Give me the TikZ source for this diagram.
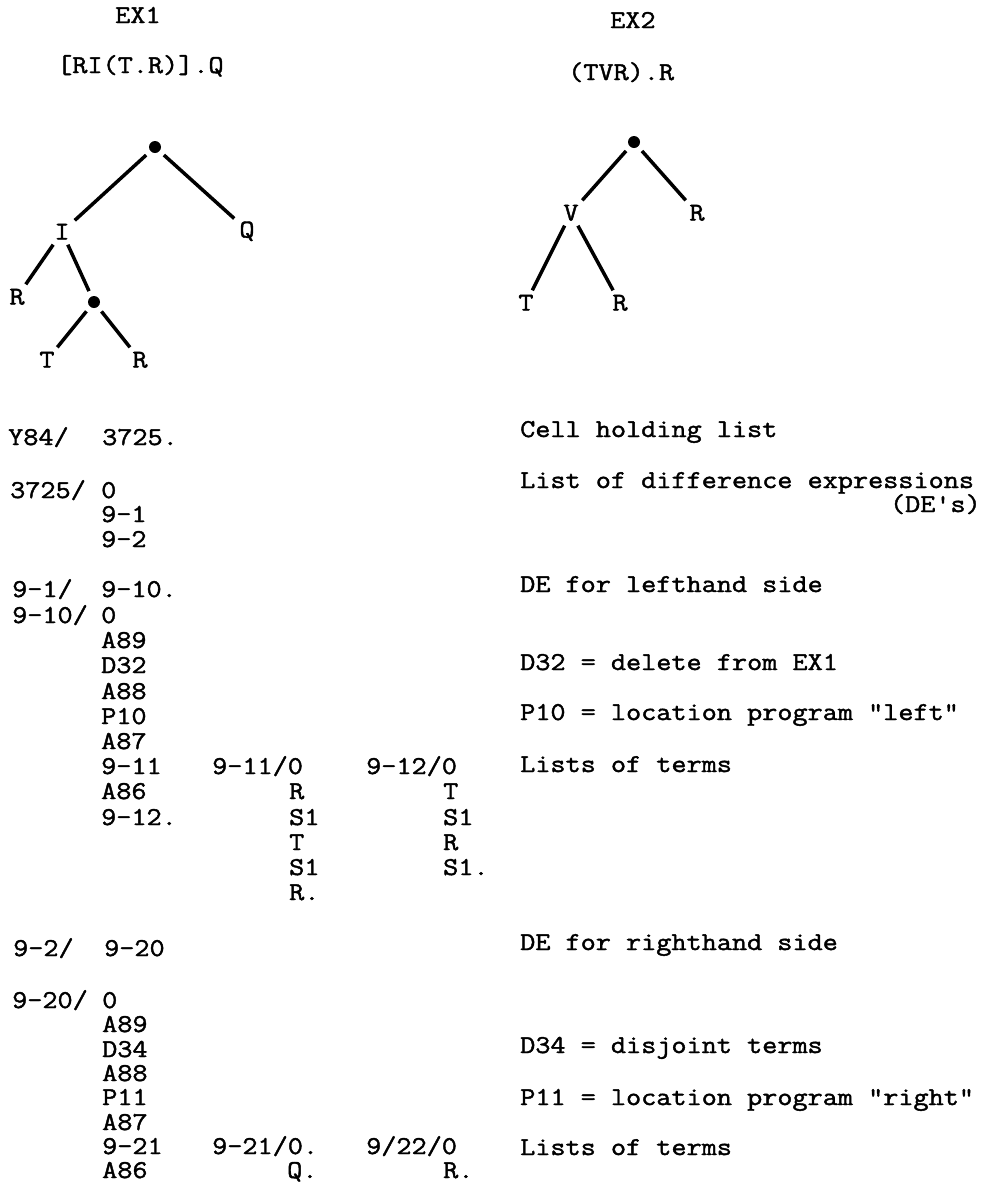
\documentclass[tikz,border=0pt]{standalone}
\usepackage{fontspec}
\setmonofont{Latin Modern Mono}[FakeStretch=1.143, FakeBold=1.6]
\newcommand\tw{\ttfamily\fontsize{25.7}{25}\selectfont}
\begin{document}
\begin{tikzpicture}[x=1pt,y=-1pt,
  txt/.style={anchor=base west, inner sep=0pt, font=\tw},
  txr/.style={anchor=base east, inner sep=0pt, font=\tw},
  leaf/.style={font=\tw, inner sep=5pt, text height=15pt, text depth=0pt},
  dotn/.style={circle, fill=black, inner sep=0pt, minimum size=12pt, outer sep=6pt},
  branch/.style={line width=3.5pt}]
\useasboundingbox[fill=white] (0,0) rectangle (988,1192);

% ---------- headings ----------
\node[txt] (ex1) at (115,23) {EX1};
\node[txt] (f1) at (57,73) {[RI(T.R)].Q};
\node[txt] (ex2) at (610,28) {EX2};
\node[txt] (f2) at (568,80) {(TVR).R};

% ---------- tree EX1 ----------
\node[dotn] (r1) at (155,147) {};
\node[leaf] (i1) at (62,232) {I};
\node[leaf] (q1) at (247,230) {Q};
\node[leaf] (ra) at (17,297) {R};
\node[dotn] (d2) at (94,302) {};
\node[leaf] (t1) at (47,360) {T};
\node[leaf] (rb) at (140,360) {R};
\draw[branch] (r1) -- (i1);
\draw[branch] (r1) -- (q1);
\draw[branch] (i1) -- (ra);
\draw[branch] (i1) -- (d2);
\draw[branch] (d2) -- (t1);
\draw[branch] (d2) -- (rb);

% ---------- tree EX2 ----------
\node[dotn] (r2) at (634,142) {};
\node[leaf] (v2) at (571,213) {V};
\node[leaf] (rc) at (697,213) {R};
\node[leaf] (t2) at (526,303) {T};
\node[leaf] (rd) at (620,303) {R};
\draw[branch] (r2) -- (v2);
\draw[branch] (r2) -- (rc);
\draw[branch] (v2) -- (t2);
\draw[branch] (v2) -- (rd);

% ---------- listing, first block ----------
\node[txt] (a1) at (8,445) {Y84/};
\node[txt] (a2) at (102,445) {3725.};
\node[txt] (b1) at (10,498) {3725/};
\node[txt] (b2) at (101,498) {0};
\node[txt] (b3) at (101,522) {9-1};
\node[txt] (b4) at (101,547) {9-2};

\node[txt] (c1) at (12,597) {9-1/};
\node[txt] (c2) at (101,597) {9-10.};
\node[txt] (c3) at (12,623) {9-10/};
\node[txt] (c4) at (101,623) {0};
\node[txt] (c5) at (101,648) {A89};
\node[txt] (c6) at (101,673) {D32};
\node[txt] (c7) at (101,699) {A88};
\node[txt] (c8) at (101,724) {P10};
\node[txt] (c9) at (101,749) {A87};
\node[txt] (c10) at (101,774) {9-11};
\node[txt] (c11) at (101,799) {A86};
\node[txt] (c12) at (101,825) {9-12.};

\node[txt] (e1) at (212,774) {9-11/0};
\node[txt] (e2) at (289,799) {R};
\node[txt] (e3) at (289,825) {S1};
\node[txt] (e4) at (289,850) {T};
\node[txt] (e5) at (289,875) {S1};
\node[txt] (e6) at (289,900) {R.};

\node[txt] (g1) at (366,774) {9-12/0};
\node[txt] (g2) at (443,799) {T};
\node[txt] (g3) at (443,825) {S1};
\node[txt] (g4) at (443,850) {R};
\node[txt] (g5) at (443,875) {S1.};

% ---------- listing, second block ----------
\node[txt] (h1) at (13,956) {9-2/};
\node[txt] (h2) at (104,956) {9-20};
\node[txt] (k1) at (12,1008) {9-20/};
\node[txt] (k2) at (102,1008) {0};
\node[txt] (k3) at (102,1032) {A89};
\node[txt] (k4) at (102,1057) {D34};
\node[txt] (k5) at (102,1081) {A88};
\node[txt] (k6) at (102,1105) {P11};
\node[txt] (k7) at (102,1130) {A87};
\node[txt] (k8) at (102,1154) {9-21};
\node[txt] (k9) at (102,1178) {A86};
\node[txt] (m1) at (212,1154) {9-21/0.};
\node[txt] (m2) at (287,1178) {Q.};
\node[txt] (n1) at (366,1154) {9/22/0};
\node[txt] (n2) at (443,1178) {R.};

% ---------- notes ----------
\node[txt] (p1) at (520,437) {Cell holding list};
\node[txt] (p2) at (520,488) {List of difference expressions};
\node[txr] (p3) at (981,512) {(DE's)};
\node[txt] (p4) at (520,592) {DE for lefthand side};
\node[txt] (p5) at (520,670) {D32 = delete from EX1};
\node[txt] (p6) at (520,720) {P10 = location program "left"};
\node[txt] (p7) at (520,772) {Lists of terms};
\node[txt] (p8) at (520,950) {DE for righthand side};
\node[txt] (p9) at (520,1053) {D34 = disjoint terms};
\node[txt] (p10) at (520,1105) {P11 = location program "right"};
\node[txt] (p11) at (520,1155) {Lists of terms};
\end{tikzpicture}
\end{document}
